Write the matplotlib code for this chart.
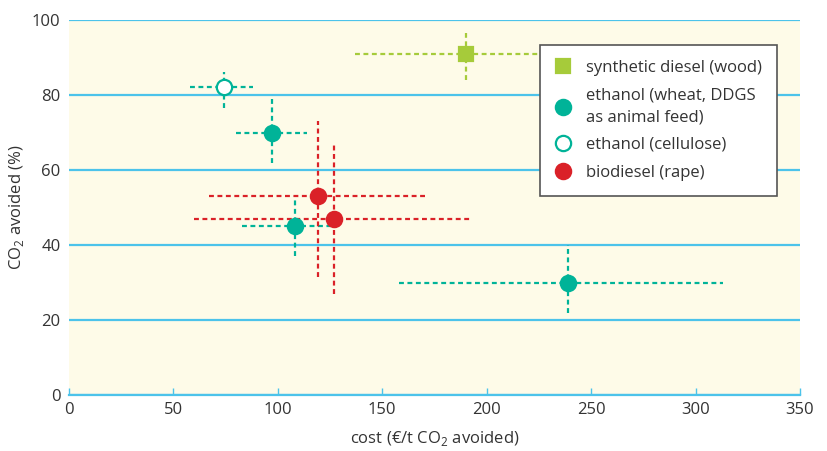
import matplotlib.pyplot as plt
import numpy as np

plt.rcParams['font.family'] = ['Open Sans', 'DejaVu Sans']
plt.rcParams['mathtext.fontset'] = 'custom'
plt.rcParams['mathtext.rm'] = 'Open Sans'

# series: centre (cost, CO2 avoided) and error ranges (low, high)
diesel_x = [190]
diesel_y = [91]
diesel_xr = [(137, 242)]
diesel_yr = [(84, 96.5)]

wheat_x = [97, 108, 239]
wheat_y = [70, 45, 30]
wheat_xr = [(80, 114), (83, 127), (158, 313)]
wheat_yr = [(62, 79), (37, 53), (22, 40)]

cell_x = [74]
cell_y = [82]
cell_xr = [(58, 88)]
cell_yr = [(76.5, 86)]

rape_x = [119, 127]
rape_y = [53, 47]
rape_xr = [(67, 171), (60, 193)]
rape_yr = [(31.5, 73), (27, 67.5)]

labels = ['synthetic diesel (wood)', 'ethanol (wheat, DDGS\nas animal feed)',
          'ethanol (cellulose)', 'biodiesel (rape)']

GREEN = '#a6cb3a'
TEAL = '#00b398'
RED = '#da2128'
BLUE = '#4cc3ea'


def err(c, r):
    c = np.array(c, float)
    r = np.array(r, float)
    return np.vstack([c - r[:, 0], r[:, 1] - c])


fig = plt.figure(figsize=(8.28, 4.51), dpi=100)
ax = fig.add_axes([0.0833, 0.124, 0.8829, 0.8317])
ax.set_facecolor('#fefbe8')

series = [
    (diesel_x, diesel_y, diesel_xr, diesel_yr, GREEN, 's', GREEN, 10),
    (wheat_x, wheat_y, wheat_xr, wheat_yr, TEAL, 'o', TEAL, 11),
    (cell_x, cell_y, cell_xr, cell_yr, TEAL, 'o', 'white', 11),
    (rape_x, rape_y, rape_xr, rape_yr, RED, 'o', RED, 11),
]
handles = []
for x, y, xr, yr, col, mk, fc, ms in series:
    eb = ax.errorbar(x, y, xerr=err(x, xr), yerr=err(y, yr), fmt='none',
                     ecolor=col, elinewidth=1.6, capsize=0, zorder=3)
    for lc in eb[2]:
        lc.set_linestyle((0, (2.2, 1.6)))
    h, = ax.plot(x, y, linestyle='none', marker=mk, ms=ms, mfc=fc,
                 mec=col, mew=1.6, zorder=4)
    handles.append(h)

ax.set_xlim(0, 350)
ax.set_ylim(0, 100)
ax.set_xticks(np.arange(0, 351, 50))
ax.set_yticks(np.arange(0, 101, 20))
ax.yaxis.grid(True, color=BLUE, linewidth=1.6)
ax.set_axisbelow(True)
for s in ['top', 'right', 'left']:
    ax.spines[s].set_visible(False)
ax.spines['bottom'].set_color(BLUE)
ax.spines['bottom'].set_linewidth(1.6)
ax.tick_params(axis='x', direction='in', length=5, width=1, color=BLUE,
               labelsize=12, labelcolor='#333333', pad=5)
ax.tick_params(axis='y', length=0, labelsize=12, labelcolor='#333333', pad=6)

ax.set_xlabel(r'cost (€/t CO$_\mathregular{2}$ avoided)', fontsize=12,
              color='#333333', labelpad=8)
ax.set_ylabel(r'CO$_\mathregular{2}$ avoided (%)', fontsize=12,
              color='#333333', labelpad=4)

leg = ax.legend(handles, labels, loc='upper right', bbox_to_anchor=(0.969, 0.933),
                fontsize=12, frameon=True, fancybox=False, framealpha=1,
                edgecolor='#555555', handlelength=1.0, handletextpad=0.9,
                labelspacing=0.7, borderpad=0.9, borderaxespad=0)
leg.get_frame().set_linewidth(1.2)
leg.set_zorder(10)
for t in leg.get_texts():
    t.set_color('#333333')
    t.set_linespacing(1.45)

fig.savefig('out.png', dpi=100)
